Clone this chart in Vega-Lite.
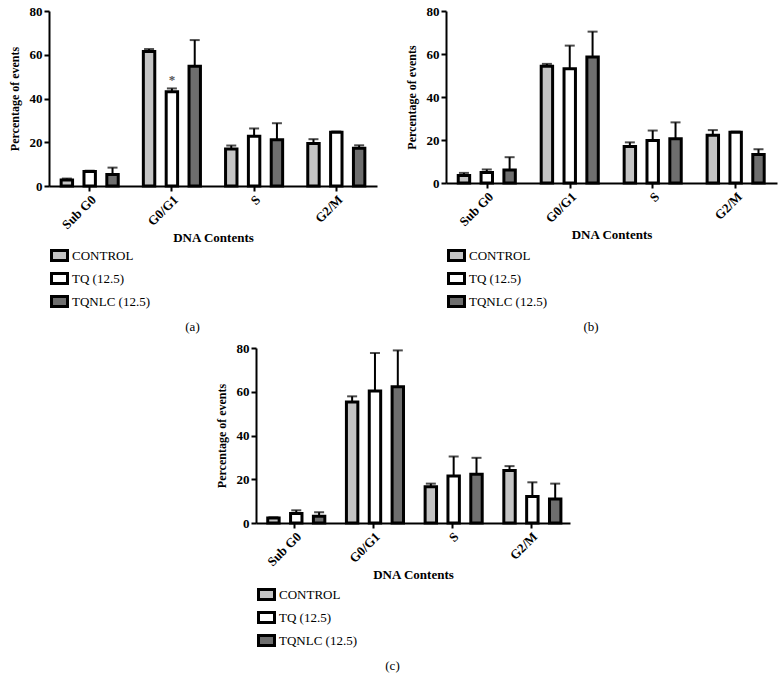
{
  "$schema": "https://vega.github.io/schema/vega-lite/v6.json",
  "padding": {"left": 8, "top": 5, "right": 5, "bottom": 5},
  "background": "white",
  "config": {
    "view": {"stroke": null},
    "font": "Times New Roman, Liberation Serif, serif",
    "axis": {
      "grid": false,
      "domainColor": "black", "domainWidth": 2,
      "tickColor": "black", "tickWidth": 2, "tickSize": 5,
      "labelFont": "Times New Roman, Liberation Serif, serif", "labelFontWeight": "bold", "labelFontSize": 13, "labelColor": "black",
      "titleFont": "Times New Roman, Liberation Serif, serif", "titleFontWeight": "bold", "titleFontSize": 13, "titleColor": "black"
    },
    "legend": {
      "labelFont": "Times New Roman, Liberation Serif, serif", "labelFontSize": 13, "labelColor": "black", "labelFontWeight": "normal",
      "symbolType": "M-1.6,-1H1.6V1H-1.6Z", "symbolSize": 100, "symbolStrokeColor": "black", "symbolStrokeWidth": 3,
      "labelOffset": 6, "rowPadding": 0, "columns": 1, "direction": "vertical"
    },
    "title": {"font": "Times New Roman, Liberation Serif, serif", "fontSize": 13, "fontWeight": "normal", "color": "black"}
  },
  "datasets": {
    "cycle": [
      {"panel": "a", "phase": "Sub G0", "group": "CONTROL", "value": 2.7, "err": 3.4, "sig": ""},
      {"panel": "a", "phase": "Sub G0", "group": "TQ (12.5)", "value": 6.6, "err": 7.0, "sig": ""},
      {"panel": "a", "phase": "Sub G0", "group": "TQNLC (12.5)", "value": 5.3, "err": 8.4, "sig": ""},
      {"panel": "a", "phase": "G0/G1", "group": "CONTROL", "value": 61.5, "err": 62.6, "sig": ""},
      {"panel": "a", "phase": "G0/G1", "group": "TQ (12.5)", "value": 43.1, "err": 44.6, "sig": "*"},
      {"panel": "a", "phase": "G0/G1", "group": "TQNLC (12.5)", "value": 54.7, "err": 66.7, "sig": ""},
      {"panel": "a", "phase": "S", "group": "CONTROL", "value": 16.9, "err": 18.5, "sig": ""},
      {"panel": "a", "phase": "S", "group": "TQ (12.5)", "value": 22.7, "err": 26.3, "sig": ""},
      {"panel": "a", "phase": "S", "group": "TQNLC (12.5)", "value": 21.1, "err": 28.7, "sig": ""},
      {"panel": "a", "phase": "G2/M", "group": "CONTROL", "value": 19.4, "err": 21.4, "sig": ""},
      {"panel": "a", "phase": "G2/M", "group": "TQ (12.5)", "value": 24.6, "err": 24.9, "sig": ""},
      {"panel": "a", "phase": "G2/M", "group": "TQNLC (12.5)", "value": 17.3, "err": 18.6, "sig": ""},
      {"panel": "b", "phase": "Sub G0", "group": "CONTROL", "value": 3.5, "err": 4.7, "sig": ""},
      {"panel": "b", "phase": "Sub G0", "group": "TQ (12.5)", "value": 4.9, "err": 6.3, "sig": ""},
      {"panel": "b", "phase": "Sub G0", "group": "TQNLC (12.5)", "value": 6.0, "err": 12.0, "sig": ""},
      {"panel": "b", "phase": "G0/G1", "group": "CONTROL", "value": 54.3, "err": 55.4, "sig": ""},
      {"panel": "b", "phase": "G0/G1", "group": "TQ (12.5)", "value": 53.1, "err": 63.9, "sig": ""},
      {"panel": "b", "phase": "G0/G1", "group": "TQNLC (12.5)", "value": 58.6, "err": 70.4, "sig": ""},
      {"panel": "b", "phase": "S", "group": "CONTROL", "value": 17.0, "err": 18.9, "sig": ""},
      {"panel": "b", "phase": "S", "group": "TQ (12.5)", "value": 19.8, "err": 24.4, "sig": ""},
      {"panel": "b", "phase": "S", "group": "TQNLC (12.5)", "value": 20.6, "err": 28.2, "sig": ""},
      {"panel": "b", "phase": "G2/M", "group": "CONTROL", "value": 22.2, "err": 24.6, "sig": ""},
      {"panel": "b", "phase": "G2/M", "group": "TQ (12.5)", "value": 23.6, "err": 23.9, "sig": ""},
      {"panel": "b", "phase": "G2/M", "group": "TQNLC (12.5)", "value": 13.2, "err": 15.7, "sig": ""},
      {"panel": "c", "phase": "Sub G0", "group": "CONTROL", "value": 2.3, "err": 2.6, "sig": ""},
      {"panel": "c", "phase": "Sub G0", "group": "TQ (12.5)", "value": 4.4, "err": 5.8, "sig": ""},
      {"panel": "c", "phase": "Sub G0", "group": "TQNLC (12.5)", "value": 3.1, "err": 4.9, "sig": ""},
      {"panel": "c", "phase": "G0/G1", "group": "CONTROL", "value": 55.3, "err": 57.9, "sig": ""},
      {"panel": "c", "phase": "G0/G1", "group": "TQ (12.5)", "value": 60.3, "err": 77.7, "sig": ""},
      {"panel": "c", "phase": "G0/G1", "group": "TQNLC (12.5)", "value": 62.3, "err": 78.9, "sig": ""},
      {"panel": "c", "phase": "S", "group": "CONTROL", "value": 16.6, "err": 18.0, "sig": ""},
      {"panel": "c", "phase": "S", "group": "TQ (12.5)", "value": 21.5, "err": 30.4, "sig": ""},
      {"panel": "c", "phase": "S", "group": "TQNLC (12.5)", "value": 22.3, "err": 29.8, "sig": ""},
      {"panel": "c", "phase": "G2/M", "group": "CONTROL", "value": 24.0, "err": 26.0, "sig": ""},
      {"panel": "c", "phase": "G2/M", "group": "TQ (12.5)", "value": 12.1, "err": 18.6, "sig": ""},
      {"panel": "c", "phase": "G2/M", "group": "TQNLC (12.5)", "value": 11.0, "err": 18.0, "sig": ""}
    ]
  },
  "center": true,
  "spacing": 8,
  "resolve": {"scale": {"fill": "independent"}, "legend": {"fill": "independent"}},
  "vconcat": [
    {
      "spacing": 28,
      "resolve": {"scale": {"fill": "independent"}, "legend": {"fill": "independent"}},
      "hconcat": [
        {
          "width": 328, "height": 175,
          "title": {"text": "(a)", "orient": "bottom", "anchor": "middle", "frame": "bounds", "offset": 8},
          "data": {"name": "cycle"},
          "transform": [{"filter": "datum.panel === 'a'"}],
          "encoding": {
            "x": {"field": "phase", "type": "nominal", "sort": ["Sub G0", "G0/G1", "S", "G2/M"],
                  "scale": {"paddingInner": 0.25, "paddingOuter": 0.12},
                  "axis": {"title": "DNA Contents", "labelAngle": -45, "titlePadding": 0}},
            "xOffset": {"field": "group", "type": "nominal", "sort": ["CONTROL", "TQ (12.5)", "TQNLC (12.5)"],
                        "scale": {"paddingInner": 0.5, "paddingOuter": 0.1}}
          },
          "layer": [
            {"mark": {"type": "bar", "stroke": "black", "strokeWidth": 3},
             "encoding": {
               "y": {"field": "value", "type": "quantitative", "scale": {"domain": [0, 80], "nice": false},
                     "axis": {"values": [0, 20, 40, 60, 80], "title": "Percentage of events", "titleFontSize": 12, "titlePadding": 8}},
               "fill": {"field": "group", "type": "nominal",
                        "scale": {"domain": ["CONTROL", "TQ (12.5)", "TQNLC (12.5)"], "range": ["#c4c4c4", "#ffffff", "#6e6e6e"]},
                        "legend": {"title": null, "orient": "none", "legendX": 4, "legendY": 238, "labelFont": "Times New Roman, Liberation Serif, serif"}}
             }},
            {"mark": {"type": "rule", "color": "black", "strokeWidth": 2},
             "encoding": {"y": {"field": "value", "type": "quantitative"}, "y2": {"field": "err"}}},
            {"mark": {"type": "tick", "color": "black", "thickness": 2, "size": 10},
             "encoding": {"y": {"field": "err", "type": "quantitative"}}},
            {"transform": [{"filter": "datum.sig !== ''"}],
             "mark": {"type": "text", "dy": -8, "fontSize": 13, "fontWeight": "bold", "color": "#555555"},
             "encoding": {"y": {"field": "err", "type": "quantitative"}, "text": {"field": "sig"}}}
          ]
        },
        {
          "width": 331, "height": 172,
          "title": {"text": "(b)", "orient": "bottom", "anchor": "middle", "frame": "bounds", "offset": 8},
          "data": {"name": "cycle"},
          "transform": [{"filter": "datum.panel === 'b'"}],
          "encoding": {
            "x": {"field": "phase", "type": "nominal", "sort": ["Sub G0", "G0/G1", "S", "G2/M"],
                  "scale": {"paddingInner": 0.25, "paddingOuter": 0.12},
                  "axis": {"title": "DNA Contents", "labelAngle": -45, "titlePadding": 0}},
            "xOffset": {"field": "group", "type": "nominal", "sort": ["CONTROL", "TQ (12.5)", "TQNLC (12.5)"],
                        "scale": {"paddingInner": 0.5, "paddingOuter": 0.1}}
          },
          "layer": [
            {"mark": {"type": "bar", "stroke": "black", "strokeWidth": 3},
             "encoding": {
               "y": {"field": "value", "type": "quantitative", "scale": {"domain": [0, 80], "nice": false},
                     "axis": {"values": [0, 20, 40, 60, 80], "title": "Percentage of events", "titleFontSize": 12, "titlePadding": 8}},
               "fill": {"field": "group", "type": "nominal",
                        "scale": {"domain": ["CONTROL", "TQ (12.5)", "TQNLC (12.5)"], "range": ["#c4c4c4", "#ffffff", "#6e6e6e"]},
                        "legend": {"title": null, "orient": "none", "legendX": 4, "legendY": 238, "labelFont": "Times New Roman, Liberation Serif, serif"}}
             }},
            {"mark": {"type": "rule", "color": "black", "strokeWidth": 2},
             "encoding": {"y": {"field": "value", "type": "quantitative"}, "y2": {"field": "err"}}},
            {"mark": {"type": "tick", "color": "black", "thickness": 2, "size": 10},
             "encoding": {"y": {"field": "err", "type": "quantitative"}}}
          ]
        }
      ]
    },
    {
      "width": 314, "height": 175,
      "title": {"text": "(c)", "orient": "bottom", "anchor": "middle", "frame": "bounds", "offset": 8},
      "data": {"name": "cycle"},
      "transform": [{"filter": "datum.panel === 'c'"}],
      "encoding": {
        "x": {"field": "phase", "type": "nominal", "sort": ["Sub G0", "G0/G1", "S", "G2/M"],
              "scale": {"paddingInner": 0.25, "paddingOuter": 0.12},
              "axis": {"title": "DNA Contents", "labelAngle": -45, "titlePadding": 0}},
        "xOffset": {"field": "group", "type": "nominal", "sort": ["CONTROL", "TQ (12.5)", "TQNLC (12.5)"],
                    "scale": {"paddingInner": 0.5, "paddingOuter": 0.1}}
      },
      "layer": [
        {"mark": {"type": "bar", "stroke": "black", "strokeWidth": 3},
         "encoding": {
           "y": {"field": "value", "type": "quantitative", "scale": {"domain": [0, 80], "nice": false},
                 "axis": {"values": [0, 20, 40, 60, 80], "title": "Percentage of events", "titleFontSize": 12, "titlePadding": 8}},
           "fill": {"field": "group", "type": "nominal",
                    "scale": {"domain": ["CONTROL", "TQ (12.5)", "TQNLC (12.5)"], "range": ["#c4c4c4", "#ffffff", "#6e6e6e"]},
                    "legend": {"title": null, "orient": "none", "legendX": 4, "legendY": 240, "labelFont": "Times New Roman, Liberation Serif, serif"}}
         }},
        {"mark": {"type": "rule", "color": "black", "strokeWidth": 2},
         "encoding": {"y": {"field": "value", "type": "quantitative"}, "y2": {"field": "err"}}},
        {"mark": {"type": "tick", "color": "black", "thickness": 2, "size": 10},
         "encoding": {"y": {"field": "err", "type": "quantitative"}}}
      ]
    }
  ]
}
